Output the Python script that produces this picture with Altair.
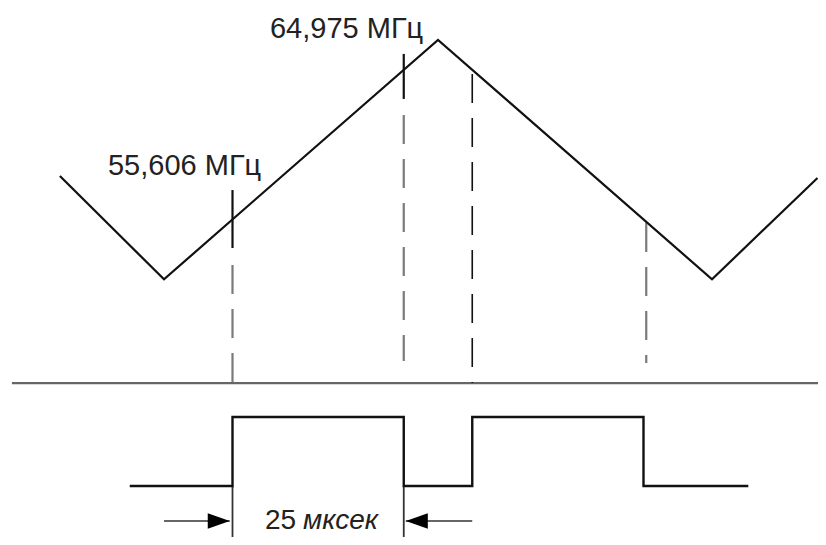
import altair as alt
import pandas as pd

# ---- data (time in µs, frequency in MHz) ----
# triangular frequency sweep
sweep_t = [-15.2, 0, 40, 80, 95.4]
sweep_f = [58.33, 51.86, 66.86, 51.86, 58.21]

# gate pulse (low / high)
gate_t = [-5, 10, 10, 35, 35, 45, 45, 70, 70, 85.3]
gate_state = ["low", "low", "high", "high", "low", "low", "high", "high", "low", "low"]
GATE_LEVEL = {"low": 38.91, "high": 43.23}

# marker lines
tick_t = [10, 35]
tick_top = [57.45, 65.98]
tick_bottom = [53.82, 63.16]

gray_dash_t = [10, 35, 70.4]
gray_dash_top = [52.76, 62.16, 55.39]
gray_dash_bottom = [45.36, 46.74, 46.61]

black_dash_t = [45]
black_dash_top = [64.72]
black_dash_bottom = [45.36]

BASE_F = 45.36
base_t = [-22.2, 95.5]

ext_t = [10, 35]
ext_top = [38.91, 38.91]
ext_bottom = [35.2, 35.2]

ARROW_F = 36.72
arrow_from = [0, 45]
arrow_tip = [9.6, 35.3]
arrow_dir = ["right", "left"]

labels = ["55,606 МГц", "64,975 МГц"]
label_t = [-8.18, 15.47]
label_f = [58.39, 66.98]

span_num = ["25"]
span_num_t = [14.74]
span_unit = ["мксек"]
span_unit_t = [20.3]
SPAN_F = 36.22

# ---- scales ----
X = alt.Scale(domain=[-22.774, 95.474], nice=False, zero=False)
Y = alt.Scale(domain=[35.713, 68.858], nice=False, zero=False)

def xenc(f="t"):
    return alt.X(f"{f}:Q", scale=X, axis=None)

def yenc(f="f"):
    return alt.Y(f"{f}:Q", scale=Y, axis=None)

sweep_df = pd.DataFrame({"t": sweep_t, "f": sweep_f, "o": range(len(sweep_t))})
gate_df = pd.DataFrame({"t": gate_t, "f": [GATE_LEVEL[s] for s in gate_state], "o": range(len(gate_t))})
tick_df = pd.DataFrame({"t": tick_t, "f": tick_top, "f2": tick_bottom})
gdash_df = pd.DataFrame({"t": gray_dash_t, "f": gray_dash_top, "f2": gray_dash_bottom})
bdash_df = pd.DataFrame({"t": black_dash_t, "f": black_dash_top, "f2": black_dash_bottom})
base_df = pd.DataFrame({"t": [base_t[0]], "t2": [base_t[1]], "f": [BASE_F]})
ext_df = pd.DataFrame({"t": ext_t, "f": ext_top, "f2": ext_bottom})
arrow_df = pd.DataFrame({"t": arrow_from, "t2": arrow_tip, "f": [ARROW_F] * 2, "dir": arrow_dir})
label_df = pd.DataFrame({"t": label_t, "f": label_f, "label": labels})
num_df = pd.DataFrame({"t": span_num_t, "f": [SPAN_F], "label": span_num})
unit_df = pd.DataFrame({"t": span_unit_t, "f": [SPAN_F], "label": span_unit})

sweep = alt.Chart(sweep_df).mark_line(color="#111", strokeWidth=2.2, clip=False).encode(
    x=xenc(), y=yenc(), order="o:Q")
gate = alt.Chart(gate_df).mark_line(color="#111", strokeWidth=2.4, clip=False).encode(
    x=xenc(), y=yenc(), order="o:Q")
ticks = alt.Chart(tick_df).mark_rule(color="#111", strokeWidth=2.2).encode(
    x=xenc(), y=yenc(), y2="f2:Q")
gdash = alt.Chart(gdash_df).mark_rule(color="#7a7a7a", strokeWidth=2.2, strokeDash=[29, 15]).encode(
    x=xenc(), y=yenc(), y2="f2:Q")
bdash = alt.Chart(bdash_df).mark_rule(color="#111", strokeWidth=1.6, strokeDash=[29, 15]).encode(
    x=xenc(), y=yenc(), y2="f2:Q")
base = alt.Chart(base_df).mark_rule(color="#666", strokeWidth=2.2, clip=False).encode(
    x=xenc(), x2="t2:Q", y=yenc())
ext = alt.Chart(ext_df).mark_rule(color="#333", strokeWidth=1.8, clip=False).encode(
    x=xenc(), y=yenc(), y2="f2:Q")
arrow_lines = alt.Chart(arrow_df).mark_rule(color="#333", strokeWidth=1.6).encode(
    x=xenc(), x2="t2:Q", y=yenc())
head_r = alt.Chart(arrow_df).transform_filter(alt.datum.dir == "right").mark_point(
    shape="M -2 -0.7 L 0 0 L -2 0.7 Z", size=484, filled=True, color="#000", opacity=1, strokeWidth=0
).encode(x=xenc("t2"), y=yenc())
head_l = alt.Chart(arrow_df).transform_filter(alt.datum.dir == "left").mark_point(
    shape="M 2 -0.7 L 0 0 L 2 0.7 Z", size=484, filled=True, color="#000", opacity=1, strokeWidth=0
).encode(x=xenc("t2"), y=yenc())
text = alt.Chart(label_df).mark_text(
    font="Liberation Sans", fontSize=29, color="#222", align="left", baseline="alphabetic"
).encode(x=xenc(), y=yenc(), text="label:N")
num = alt.Chart(num_df).mark_text(
    font="Liberation Sans", fontSize=28, color="#222", align="left", baseline="alphabetic"
).encode(x=xenc(), y=yenc(), text="label:N")
unit = alt.Chart(unit_df).mark_text(
    font="Liberation Sans", fontSize=28, fontStyle="italic", color="#222", align="left", baseline="alphabetic"
).encode(x=xenc(), y=yenc(), text="label:N")

chart = alt.layer(
    base, gdash, bdash, ticks, ext, sweep, gate, arrow_lines, head_r, head_l, text, num, unit
).properties(
    width=810, height=529, autosize=alt.AutoSizeParams(type="none"), padding=0,
    background="white"
).configure_view(stroke=None)

chart.save("out.html", embed_options={"renderer": "svg", "actions": False})
